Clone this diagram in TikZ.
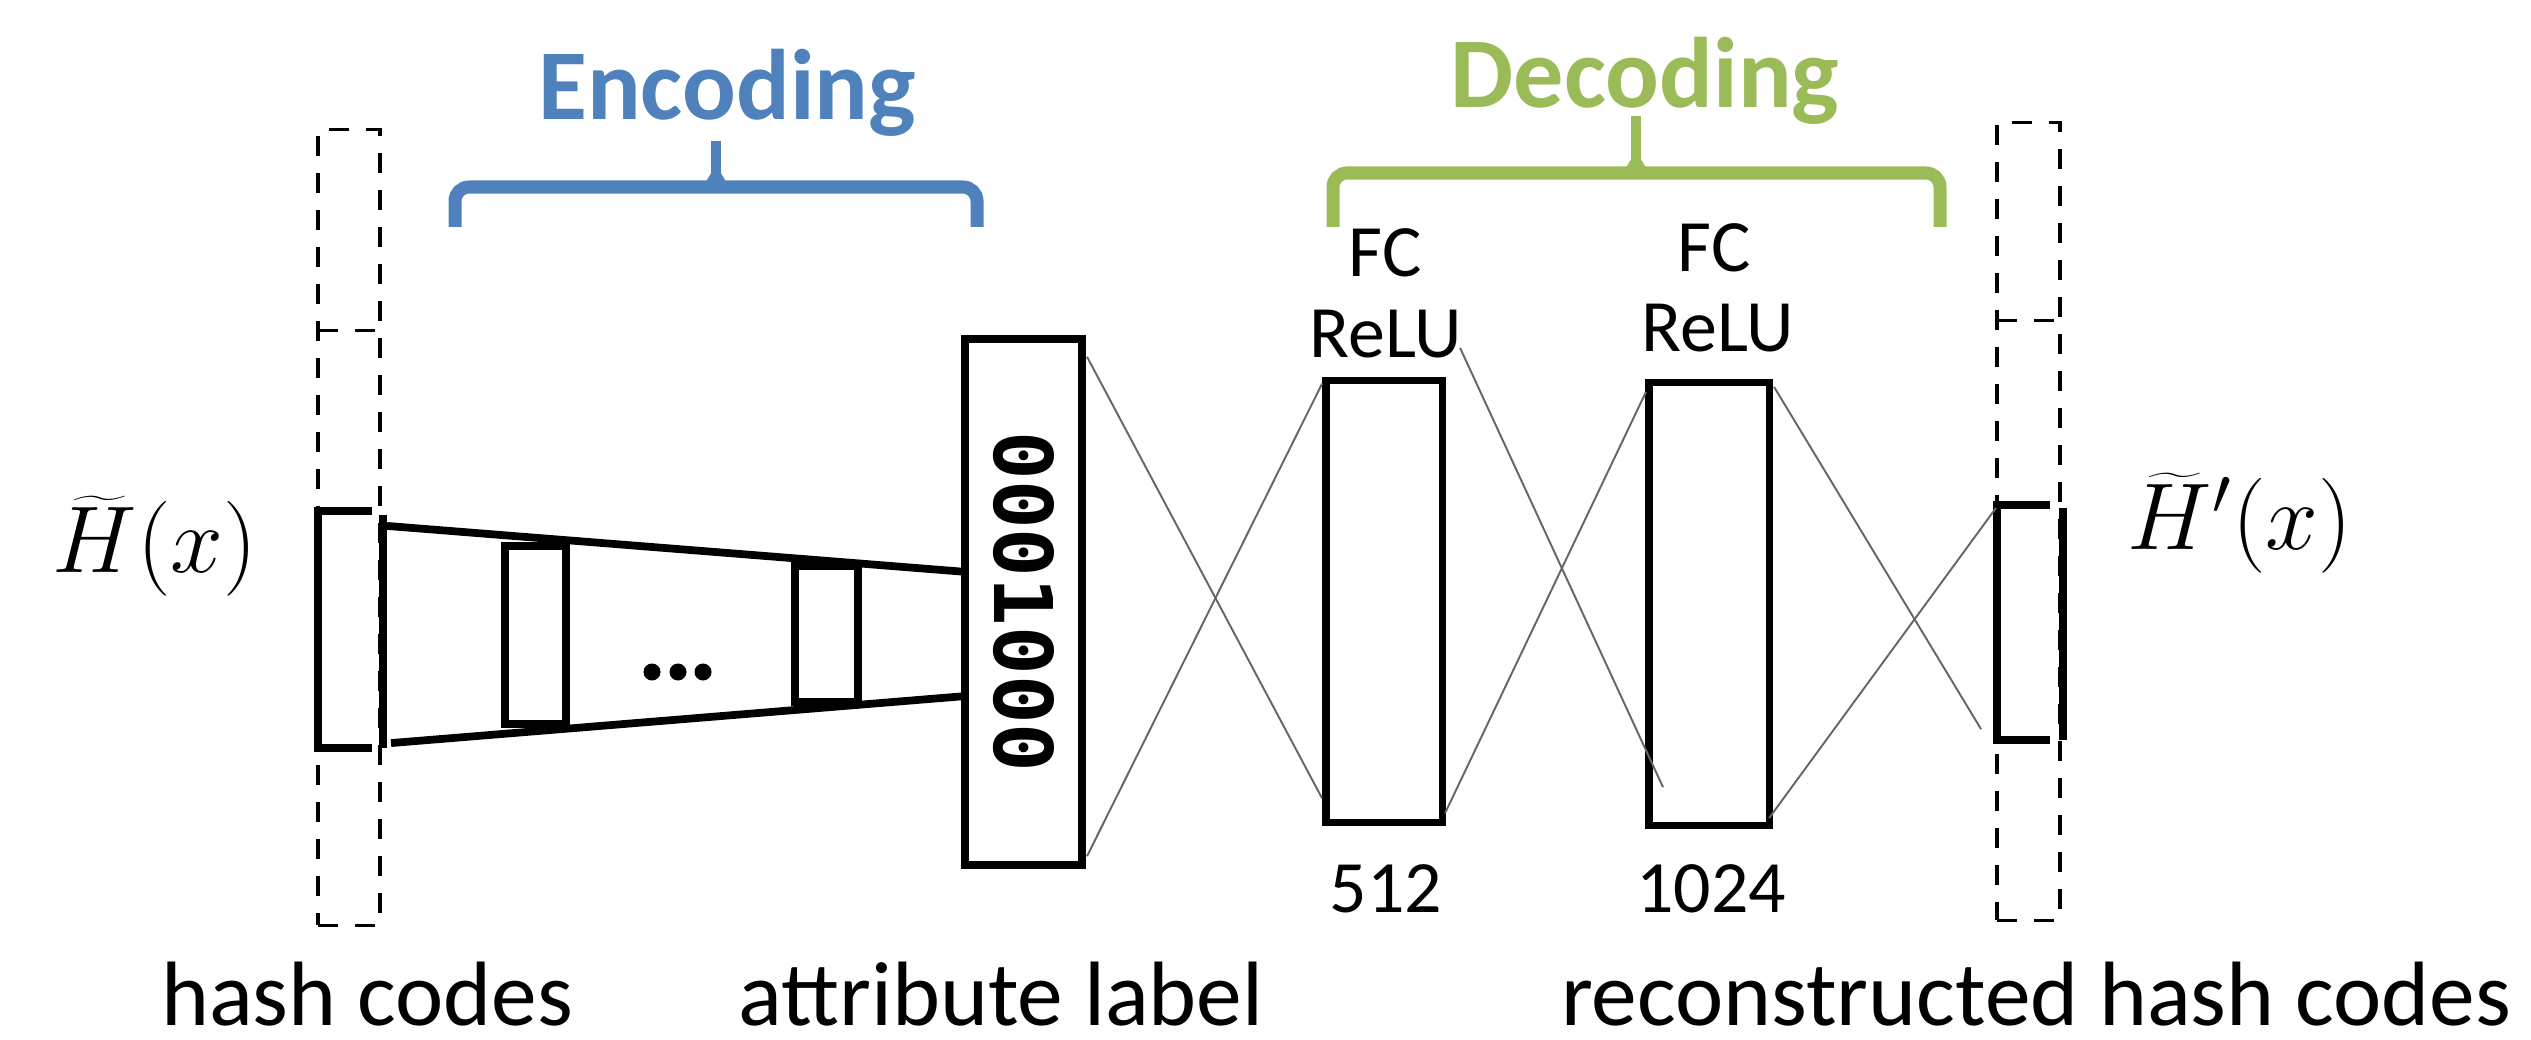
\documentclass[tikz,border=0pt]{standalone}
\usepackage{fix-cm}
\usepackage{fontspec}
\setmainfont{Carlito}
\newfontfamily\codefont{DejaVu Sans Mono}
\usetikzlibrary{calc}
\definecolor{encblue}{RGB}{79,129,189}
\definecolor{decgreen}{RGB}{155,187,89}
\begin{document}
\begin{tikzpicture}[x=0.01cm,y=-0.01cm,
  every node/.style={inner sep=0pt, outer sep=0pt},
  layer/.style={draw, rectangle, line width=2.2pt},
  slot/.style={rectangle},
  ghost/.style={draw, dash pattern=on 0.2cm off 0.17cm, line width=0.9pt},
  heavyline/.style={line width=2.2pt},
  wire/.style={draw=black!60, line width=0.55pt},
  bracepath/.style={line width=3.7pt, rounded corners=0.14cm},
  bracetick/.style={line width=2.8pt},
  headtxt/.style={font=\bfseries\fontsize{28.5}{34}\selectfont, anchor=base},
  midtxt/.style={font=\fontsize{21}{25}\selectfont, anchor=base},
  bottxt/.style={font=\fontsize{26}{31}\selectfont, anchor=base},
  mathtxt/.style={font=\fontsize{27}{32}\selectfont}]

\useasboundingbox (0,0) rectangle (2531,1040);

% dashed code columns
\node[ghost, minimum width=0.62cm, minimum height=7.95cm] (colL) at (349,527.5) {};
\draw[ghost] ($(colL.north west)+(0,201)$) -- ($(colL.north east)+(0,201)$);
\node[ghost, minimum width=0.63cm, minimum height=7.97cm] (colR) at (2028.5,521.5) {};
\draw[ghost] ($(colR.north west)+(0,198)$) -- ($(colR.north east)+(0,198)$);

% input hash code block
\node[slot, minimum width=0.65cm, minimum height=2.37cm] (hin) at (350.5,629.5) {};
\draw[heavyline] ($(hin.north west)+(54,0)$) -- (hin.north west) -- (hin.south west) -- ($(hin.south west)+(54,0)$);
\draw[heavyline] ($(hin.north east)+(0,4)$) -- (hin.south east);

% output hash code block
\node[slot, minimum width=0.66cm, minimum height=2.35cm] (hout) at (2030,622.5) {};
\draw[heavyline] ($(hout.north west)+(53,0)$) -- (hout.north west) -- (hout.south west) -- ($(hout.south west)+(53,0)$);
\draw[heavyline] ($(hout.north east)+(0,3)$) -- (hout.south east);

% encoder layers
\node[layer, minimum width=0.61cm, minimum height=1.78cm] (enc1) at (535.5,635) {};
\node[layer, minimum width=0.63cm, minimum height=1.36cm] (enc2) at (826.5,634) {};
\fill (652,672) circle (0.085cm) (678,672) circle (0.085cm) (703,672) circle (0.085cm);

% attribute label
\node[layer, minimum width=1.17cm, minimum height=5.26cm] (attr) at (1023.5,602) {};
\node[rotate=-90, font=\codefont\bfseries\fontsize{23}{27}\selectfont] (code) at (attr.center) {0001000};

% encoder funnel
\draw[heavyline] ($(hin.north east)+(4,15)$) -- ($(attr.north west)+(0,233)$);
\draw[heavyline] ($(hin.south east)+(8,-5)$) -- ($(attr.north west)+(3,357)$);

% decoder layers
\node[layer, line width=2pt, minimum width=1.16cm, minimum height=4.41cm] (fc1) at (1384,601.5) {};
\node[layer, line width=2pt, minimum width=1.20cm, minimum height=4.42cm] (fc2) at (1709,604) {};

% full connections
\draw[wire] ($(attr.north east)+(5,18)$) -- ($(fc1.south west)+(-4,-24)$);
\draw[wire] ($(attr.south east)+(5,-9)$) -- ($(fc1.north west)+(-4,3)$);
\draw[wire] ($(fc1.north east)+(18,-33)$) -- ($(fc2.south west)+(14,-38)$);
\draw[wire] ($(fc1.south east)+(3,-9)$) -- ($(fc2.north west)+(-3,9)$);
\draw[wire] ($(fc2.north east)+(5,4)$) -- ($(hout.south west)+(-16,-11)$);
\draw[wire] ($(fc2.south east)+(0,-7)$) -- ($(hout.north west)+(-1,3)$);

% layer captions
\node[midtxt] (fc1a) at (1385,277) {FC};
\node[midtxt] (fc1b) at (1386,357) {ReLU};
\node[midtxt] (fc2a) at (1714,272) {FC};
\node[midtxt] (fc2b) at (1718,352) {ReLU};
\node[midtxt] (fc1n) at (1386,912) {512};
\node[midtxt] (fc2n) at (1711,912) {1024};

% encoding / decoding braces
\draw[bracepath, draw=encblue] (455,227) -- (455,187) -- (977,187) -- (977,227);
\draw[bracetick, draw=encblue] (716,189) -- (716,141);
\fill[encblue] (704,185) -- (713,170) -- (719,170) -- (728,185) -- cycle;
\node[headtxt, text=encblue] (enctxt) at (727,120) {Encoding};

\draw[bracepath, draw=decgreen] (1333,227) -- (1333,173) -- (1940,173) -- (1940,227);
\draw[bracetick, draw=decgreen] (1636,175) -- (1636,116);
\fill[decgreen] (1624,171) -- (1633,156) -- (1639,156) -- (1648,171) -- cycle;
\node[headtxt, text=decgreen] (dectxt) at (1645,108) {Decoding};

% code symbols
\node[mathtxt] (hsym) at (155,546) {$\widetilde{H}(x)$};
\node[mathtxt] (hsym2) at (2240,523) {$\widetilde{H}'(x)$};

% bottom captions
\node[bottxt] (lab1) at (367,1025) {hash codes};
\node[bottxt] (lab2) at (1001,1025) {attribute label};
\node[bottxt] (lab3) at (2036,1025) {reconstructed hash codes};
\end{tikzpicture}
\end{document}
